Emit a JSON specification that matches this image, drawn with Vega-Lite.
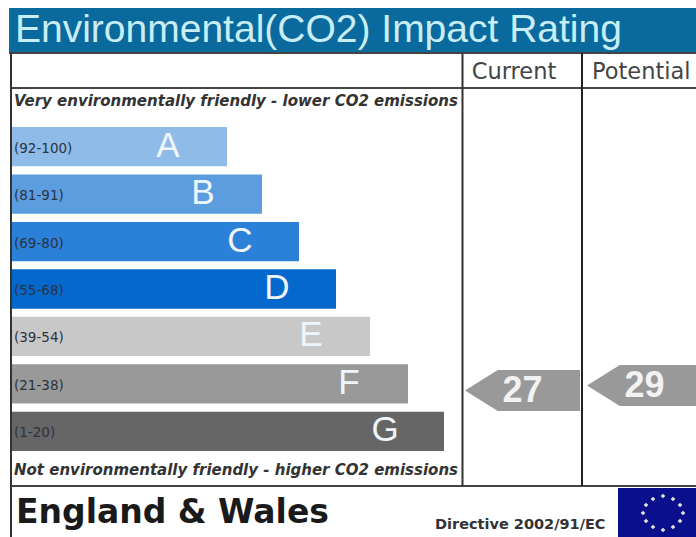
{"$schema":"https://vega.github.io/schema/vega-lite/v6.json","width":696,"height":537,"padding":0,"autosize":{"type":"none"},"background":"#ffffff","view":{"stroke":null},"config":{"font":"Liberation Sans","axis":{"disable":true}},"resolve":{"scale":{"x":"independent","y":"independent"}},"layer":[
{"data":{"values":[{"sheet":"EPC"}]},"layer":[
{"mark":{"type":"rect","color":"#0a6a9e"},"encoding":{"x":{"datum":9,"type":"quantitative","scale":{"domain":[0,696],"nice":false,"zero":false}},"x2":{"datum":696},"y":{"datum":8,"type":"quantitative","scale":{"domain":[537,0],"nice":false,"zero":false}},"y2":{"datum":52}}},
{"mark":{"type":"text","align":"left","baseline":"alphabetic","fontSize":39,"color":"#c8eef5"},"encoding":{"text":{"value":"Environmental(CO2) Impact Rating"},"x":{"datum":15,"type":"quantitative"},"y":{"datum":42,"type":"quantitative"}}},
{"mark":{"type":"rule","color":"#444444","strokeWidth":2},"encoding":{"x":{"datum":9,"type":"quantitative"},"x2":{"datum":696},"y":{"datum":53,"type":"quantitative"}}},
{"mark":{"type":"rule","color":"#444444","strokeWidth":2},"encoding":{"x":{"datum":10,"type":"quantitative"},"x2":{"datum":696},"y":{"datum":88,"type":"quantitative"}}},
{"mark":{"type":"rule","color":"#444444","strokeWidth":2},"encoding":{"x":{"datum":10,"type":"quantitative"},"x2":{"datum":696},"y":{"datum":486,"type":"quantitative"}}},
{"mark":{"type":"rule","color":"#333333","strokeWidth":2},"encoding":{"x":{"datum":11,"type":"quantitative"},"y":{"datum":53,"type":"quantitative"},"y2":{"datum":537}}},
{"mark":{"type":"rule","color":"#333333","strokeWidth":2},"encoding":{"x":{"datum":462.5,"type":"quantitative"},"y":{"datum":53,"type":"quantitative"},"y2":{"datum":486}}},
{"mark":{"type":"rule","color":"#222222","strokeWidth":2},"encoding":{"x":{"datum":582,"type":"quantitative"},"y":{"datum":53,"type":"quantitative"},"y2":{"datum":486}}},
{"mark":{"type":"text","align":"center","baseline":"middle","fontSize":22.5,"font":"DejaVu Sans","color":"#444444"},"encoding":{"text":{"value":"Current"},"x":{"datum":514,"type":"quantitative"},"y":{"datum":72,"type":"quantitative"}}},
{"mark":{"type":"text","align":"left","baseline":"middle","fontSize":22.5,"font":"DejaVu Sans","color":"#444444"},"encoding":{"text":{"value":"Potential"},"x":{"datum":592,"type":"quantitative"},"y":{"datum":72,"type":"quantitative"}}},
{"mark":{"type":"text","align":"left","baseline":"middle","fontSize":15,"font":"DejaVu Sans","fontStyle":"italic","fontWeight":"bold","color":"#333333"},"encoding":{"text":{"value":"Very environmentally friendly - lower CO2 emissions"},"x":{"datum":14,"type":"quantitative"},"y":{"datum":101,"type":"quantitative"}}},
{"mark":{"type":"text","align":"left","baseline":"middle","fontSize":15,"font":"DejaVu Sans","fontStyle":"italic","fontWeight":"bold","color":"#333333"},"encoding":{"text":{"value":"Not environmentally friendly - higher CO2 emissions"},"x":{"datum":14,"type":"quantitative"},"y":{"datum":470,"type":"quantitative"}}},
{"mark":{"type":"text","align":"left","baseline":"middle","fontSize":33,"font":"DejaVu Sans","fontWeight":"bold","color":"#1a1a1a"},"encoding":{"text":{"value":"England & Wales"},"x":{"datum":16,"type":"quantitative"},"y":{"datum":513,"type":"quantitative"}}},
{"mark":{"type":"text","align":"left","baseline":"middle","fontSize":14.5,"font":"DejaVu Sans","fontWeight":"bold","color":"#333333"},"encoding":{"text":{"value":"Directive 2002/91/EC"},"x":{"datum":435,"type":"quantitative"},"y":{"datum":525,"type":"quantitative"}}},
{"mark":{"type":"rect","color":"#0a0f8c"},"encoding":{"x":{"datum":618,"type":"quantitative"},"x2":{"datum":696},"y":{"datum":488,"type":"quantitative"},"y2":{"datum":537}}},
{"data":{"values":[{"sx":663,"sy":496},{"sx":673,"sy":499},{"sx":680,"sy":505},{"sx":683,"sy":513},{"sx":680,"sy":521},{"sx":673,"sy":527},{"sx":663,"sy":530},{"sx":653,"sy":527},{"sx":646,"sy":521},{"sx":643,"sy":513},{"sx":646,"sy":505},{"sx":653,"sy":499}]},"mark":{"type":"point","shape":"diamond","filled":true,"size":22,"color":"#dfe3d8","opacity":1},"encoding":{"x":{"field":"sx","type":"quantitative"},"y":{"field":"sy","type":"quantitative"}}}
]},
{"data":{"values":[
{"band":"A","range":"(92-100)","extent":227,"colour":"#8fbbe8"},
{"band":"B","range":"(81-91)","extent":262,"colour":"#5c9de0"},
{"band":"C","range":"(69-80)","extent":299,"colour":"#2b80d8"},
{"band":"D","range":"(55-68)","extent":336,"colour":"#0568cc"},
{"band":"E","range":"(39-54)","extent":370,"colour":"#c8c8c8"},
{"band":"F","range":"(21-38)","extent":408,"colour":"#999999"},
{"band":"G","range":"(1-20)","extent":444,"colour":"#666666"}]},
"encoding":{"y":{"field":"band","type":"nominal","sort":null,"scale":{"type":"band","domain":["A","B","C","D","E","F","G"],"range":[127,451],"paddingInner":0.17,"paddingOuter":0}},"x":{"field":"extent","type":"quantitative","scale":{"domain":[0,696],"nice":false,"zero":false}}},
"layer":[
{"mark":{"type":"bar"},"encoding":{"x2":{"datum":12},"color":{"field":"colour","type":"nominal","scale":null}}},
{"mark":{"type":"text","align":"center","baseline":"middle","fontSize":35,"dx":-59,"dy":-1,"color":"#eef6fc"},"encoding":{"text":{"field":"band"}}},
{"mark":{"type":"text","align":"left","baseline":"middle","fontSize":13.5,"font":"DejaVu Sans","dy":2,"color":"#2a3340"},"encoding":{"x":{"datum":14,"type":"quantitative"},"text":{"field":"range"}}}
]},
{"data":{"values":[{"rating":"Current","score":27},{"rating":"Potential","score":29}]},
"encoding":{"x":{"field":"rating","type":"nominal","scale":{"type":"point","domain":["Current","Potential"],"range":[522.5,644.5],"padding":0}},"y":{"field":"score","type":"quantitative","scale":{"domain":[27,29],"range":[390.5,385.5],"nice":false,"zero":false}}},
"layer":[
{"mark":{"type":"point","clip":true,"filled":true,"opacity":1,"color":"#999999","size":13225,"shape":"M -1 0 L -0.43 -0.356 L 1 -0.356 L 1 0.356 L -0.43 0.356 Z"}},
{"mark":{"type":"text","align":"center","baseline":"middle","fontSize":36,"fontWeight":"bold","color":"#f2f2f2"},"encoding":{"text":{"field":"score","type":"quantitative"}}}
]}
]}
